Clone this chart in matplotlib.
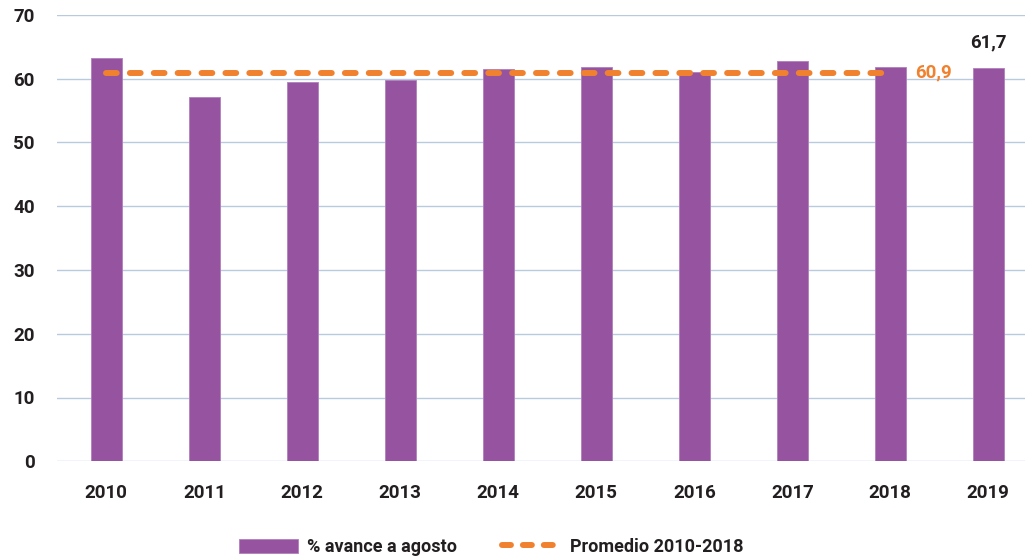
import matplotlib
matplotlib.use("Agg")
import matplotlib.pyplot as plt
from matplotlib.lines import Line2D
import numpy as np

years = ["2010", "2011", "2012", "2013", "2014", "2015", "2016", "2017", "2018", "2019"]
avance = [63.2, 57.1, 59.5, 59.8, 61.5, 61.8, 61.0, 62.8, 61.8, 61.7]
promedio = 60.9
promedio_years = years[:9]
yticks = [0, 10, 20, 30, 40, 50, 60, 70]

plt.rcParams['font.family'] = ['Roboto', 'DejaVu Sans']
TXT = '#231f20'
PURPLE = '#9553a0'
ORANGE = '#f0812f'
GRID = '#b8cbdd'
FS = 13.5

fig = plt.figure(figsize=(10.25, 5.6), dpi=100)
ax = fig.add_axes([57/1025, 1 - 461.3/560, (1025 - 57)/1025, (461.3 - 14.7)/560])

x = np.arange(len(years))
bars = ax.bar(x, avance, width=0.313, color=PURPLE, edgecolor='#b07fbd', linewidth=0.6,
              label='% avance a agosto', zorder=2)

xp = np.arange(len(promedio_years))
ax.plot(xp, [promedio] * len(xp), color=ORANGE, lw=4.3, linestyle=(0, (1.8, 2.2)),
        dash_capstyle='round', zorder=3)
line_handle = Line2D([], [], color=ORANGE, lw=4.3, linestyle=(0, (1.5, 2.0)),
                     dash_capstyle='round', label='Promedio 2010-2018')

ax.text(xp[-1] + 0.25, promedio, '60,9', color=ORANGE, fontsize=FS, fontweight='bold',
        ha='left', va='center', zorder=4)
ax.annotate('61,7', xy=(x[-1], avance[-1]), xytext=(0, 12), textcoords='offset points',
            ha='center', va='bottom', color=TXT, fontsize=FS, fontweight='bold')

ax.set_xlim(-0.503, 9.375)
ax.set_ylim(0, 70)
ax.set_yticks(yticks)
ax.set_yticklabels([str(v) for v in yticks])
ax.set_xticks(x)
ax.set_xticklabels(years)
ax.yaxis.grid(True, color=GRID, linewidth=1.0, zorder=0)
ax.set_axisbelow(True)
for s in ax.spines.values():
    s.set_visible(False)
ax.tick_params(axis='both', length=0, labelsize=FS, labelcolor=TXT)
ax.tick_params(axis='x', pad=16)
ax.tick_params(axis='y', pad=16)
for lab in ax.get_xticklabels() + ax.get_yticklabels():
    lab.set_fontweight('bold')

LFS = 13
fig.legend(handles=[bars, line_handle], loc='center', bbox_to_anchor=(0.4795, 1 - 547/560),
           ncol=2, frameon=False, prop={'size': LFS, 'weight': 'bold'}, labelcolor=TXT,
           handlelength=59 / (LFS * 100 / 72), handleheight=0.8, handletextpad=0.5,
           columnspacing=2.5)

fig.savefig('out.png', dpi=100)
